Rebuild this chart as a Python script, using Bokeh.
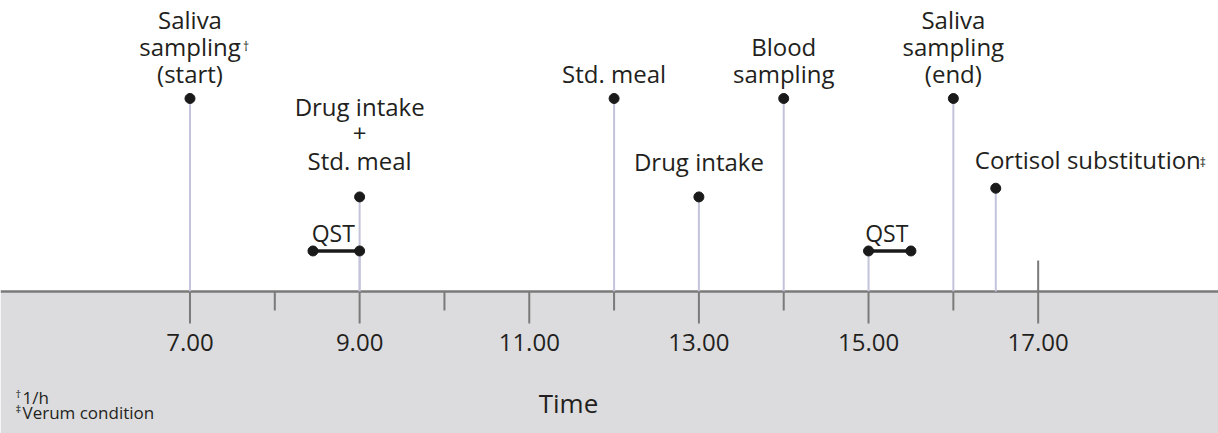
from math import pi
from bokeh.plotting import figure
from bokeh.models import Range1d, BoxAnnotation, Span, Label
from bokeh.core.properties import value
from bokeh.embed import file_html
from bokeh.resources import INLINE

# ---------------- data ----------------
event_times = [7.0, 9.0, 12.0, 13.0, 14.0, 16.0, 16.5]
event_levels = [2.0, 0.98, 2.0, 0.98, 2.0, 2.0, 1.07]
event_labels = [
    ["Saliva", "sampling", "(start)"],
    ["Drug intake", "+", "Std. meal"],
    ["Std. meal"],
    ["Drug intake"],
    ["Blood", "sampling"],
    ["Saliva", "sampling", "(end)"],
    ["Cortisol substitution"],
]
# superscript marks: (event index, line index, mark)
event_marks = [(0, 1, "\u2020"), (6, 0, "\u2021")]

qst_start = [8.45, 15.0]
qst_end = [9.0, 15.5]
qst_anchor = [9.0, 15.0]
qst_level = [0.42, 0.42]
qst_text = ["QST", "QST"]

major_ticks = [7, 9, 11, 13, 15, 17]
minor_ticks = [8, 10, 12, 14, 16]
tick_labels = ["7.00", "9.00", "11.00", "13.00", "15.00", "17.00"]
day_end = [17.0]

axis_title = "Time"
footnote_marks = ["\u2020", "\u2021"]
footnote_texts = ["1/h", "Verum condition"]

# ---------------- style / layout ----------------
FONT = "Open Sans"
TXT = "#231f20"
STEM = "#c3c3db"
AXIS = "#7a7a7a"
GRAY = "#dcdcde"
DOT = "#1a1a1a"
LINE_H = 27
FS = 24          # label font size
BL = 0.38        # baseline correction factor (fraction of font size)
label_gap = [16, 27, 16, 26, 16, 16, 20]
label_align = ["center"] * 6 + ["left"]
label_dx = [0, 0, 0, 0, 0, 0, -21]
mark_dx = [53, 204]
mark_dy = [-4, -1]
MARK_FS = 12


def corr(fs):
    return -BL * fs


p = figure(width=1218, height=433,
           x_range=Range1d(4.766, 19.126), y_range=Range1d(-1.4715, 3.0155),
           x_axis_type=None, y_axis_type=None,
           output_backend="svg", toolbar_location=None, min_border=0)
p.grid.visible = False
p.outline_line_color = None
p.background_fill_color = "white"
p.border_fill_color = "white"

p.add_layout(BoxAnnotation(top=0, fill_color=GRAY, fill_alpha=1, line_color=None, level="underlay"))
p.add_layout(Span(location=0, dimension="width", line_color=AXIS, line_width=2.5, level="underlay"))

# stems
p.segment(x0=event_times, y0=[0] * len(event_times), x1=event_times, y1=event_levels,
          line_color=STEM, line_width=2)
p.segment(x0=qst_anchor, y0=[0] * len(qst_anchor), x1=qst_anchor, y1=qst_level,
          line_color=STEM, line_width=2)

# ticks
p.ray(x=major_ticks, y=[0] * len(major_ticks), length=32, length_units="screen",
      angle=-pi / 2, line_color=AXIS, line_width=2)
p.ray(x=minor_ticks, y=[0] * len(minor_ticks), length=19, length_units="screen",
      angle=-pi / 2, line_color=AXIS, line_width=2)
p.ray(x=day_end, y=[0], length=31, length_units="screen",
      angle=pi / 2, line_color=AXIS, line_width=2)

# QST bars
p.segment(x0=qst_start, y0=qst_level, x1=qst_end, y1=qst_level, line_color=DOT, line_width=3.5)
p.scatter(x=qst_start + qst_end, y=qst_level + qst_level, size=10, color=DOT)
p.text(x=[(a + b) / 2 for a, b in zip(qst_start, qst_end)], y=qst_level, text=qst_text,
       x_offset=-3, y_offset=-9 + corr(23), text_align="center", text_baseline="alphabetic",
       text_font=value(FONT), text_font_size="23px", text_color=TXT)

# event dots
p.scatter(x=event_times, y=event_levels, size=10, color=DOT)

# event labels
for align in ("center", "left"):
    xs, ys, ts, xo, yo = [], [], [], [], []
    for k, lines in enumerate(event_labels):
        if label_align[k] != align:
            continue
        n = len(lines)
        for i, t in enumerate(lines):
            xs.append(event_times[k]); ys.append(event_levels[k]); ts.append(t)
            xo.append(label_dx[k])
            yo.append(-(label_gap[k] + (n - 1 - i) * LINE_H) + corr(FS))
    p.text(x=xs, y=ys, text=ts, x_offset=xo, y_offset=yo, text_align=align,
           text_baseline="alphabetic", text_font=value(FONT), text_font_size=f"{FS}px",
           text_color=TXT)

# superscript marks
mx, my, mt, mxo, myo = [], [], [], [], []
for j, (k, i, m) in enumerate(event_marks):
    n = len(event_labels[k])
    mx.append(event_times[k]); my.append(event_levels[k]); mt.append(m)
    mxo.append(mark_dx[j])
    myo.append(-(label_gap[k] + (n - 1 - i) * LINE_H) + mark_dy[j] + corr(MARK_FS))
p.text(x=mx, y=my, text=mt, x_offset=mxo, y_offset=myo, text_align="left",
       text_baseline="alphabetic", text_font=value(FONT), text_font_size=f"{MARK_FS}px",
       text_color=TXT)

# tick labels
p.text(x=major_ticks, y=[0] * len(major_ticks), text=tick_labels, y_offset=60 + corr(24),
       text_align="center", text_baseline="alphabetic", text_font=value(FONT),
       text_font_size="24px", text_color=TXT)

# axis title and footnotes (screen units, y from bottom)
p.add_layout(Label(x=568, y=21 - corr(26), x_units="screen", y_units="screen", text=axis_title,
                   text_align="center", text_baseline="alphabetic", text_font=FONT,
                   text_font_size="26px", text_color=TXT))
for j, (m, t) in enumerate(zip(footnote_marks, footnote_texts)):
    base = 30 - 15 * j
    p.add_layout(Label(x=15, y=base + 6 - corr(11), x_units="screen", y_units="screen", text=m,
                       text_baseline="alphabetic", text_font=FONT, text_font_size="11px",
                       text_color=TXT))
    p.add_layout(Label(x=22, y=base - corr(17), x_units="screen", y_units="screen", text=t,
                       text_baseline="alphabetic", text_font=FONT, text_font_size="17px",
                       text_color=TXT))

open("out.html", "w").write(file_html(p, INLINE))
